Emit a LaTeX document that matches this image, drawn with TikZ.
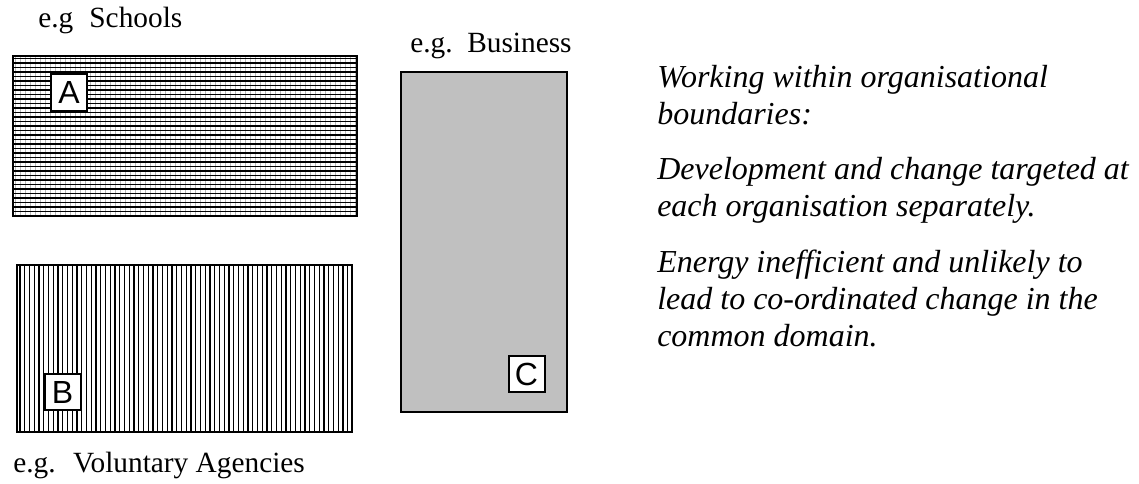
\documentclass[tikz,border=0pt]{standalone}
\usepackage{fontspec}
\setmainfont{Liberation Serif}
\setsansfont{Liberation Sans}
\usetikzlibrary{positioning}
\definecolor{bizgray}{RGB}{192,192,192}
\tikzset{%
	org/.style={line width=2pt},
	tag/.style={
		draw,
		line width=1.5pt,
		fill=white,
		inner sep=0pt,
		minimum width=27pt,
		minimum height=27.5pt,
		font=\sffamily\fontsize{24}{24}\selectfont
	},
	caption/.style={inner sep=0pt, anchor=base west, font=\fontsize{22}{24}\selectfont},
	note/.style={inner sep=0pt, anchor=base west, align=left, font=\itshape\fontsize{24}{27.75}\selectfont},
}
\begin{document}
\begin{tikzpicture}[x=0.75pt,y=-0.75pt]
	\useasboundingbox (0,0) rectangle (1139,484);
	
	% Schools
	\begin{scope}
		\clip (13,56) rectangle (357,216);
		\foreach \i in {0,...,69}
			\draw[gray!55, line width=0.3pt] (15+5*\i,56) -- (15+5*\i,216);
		\foreach \i in {0,...,35}
			\draw[line width=0.9pt] (13,58.5+4.5*\i) -- (357,58.5+4.5*\i);
	\end{scope}
	\draw[org] (13,56) rectangle (357,216);
	\node[tag] (tagA) at (69,92.5) {A};
	\node[caption] (schools) at (38,28) {e.g\hspace{0.55em}Schools};
	
	% Voluntary agencies
	\begin{scope}
		\clip (17,265) rectangle (352,432);
		\foreach \i in {0,...,70}
			\draw[line width=0.9pt] (20+4.75*\i,265) -- (20+4.75*\i,432);
	\end{scope}
	\draw[org] (17,265) rectangle (352,432);
	\node[tag] (tagB) at (62.5,392) {B};
	\node[caption] (agencies) at (13,473) {e.g.\hspace{0.6em}Voluntary Agencies};
	
	% Business
	\draw[org, fill=bizgray] (401,72) rectangle (567,412);
	\node[tag] (tagC) at (526.5,374) {C};
	\node[caption] (business) at (410,53) {e.g.\hspace{0.5em}Business};
	
	% Notes
	\node[note] (note1) at (657,125) {Working within organisational\\boundaries:};
	\node[note] (note2) at (657,217) {Development and change targeted at\\each organisation separately.};
	\node[note] (note3) at (657,347) {Energy inefficient and unlikely to\\lead to co-ordinated change in the\\common domain.};
\end{tikzpicture}
\end{document}
